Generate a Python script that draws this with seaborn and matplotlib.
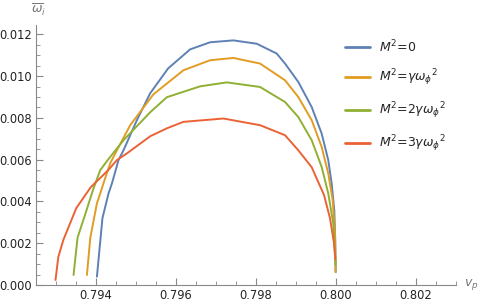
import numpy as np
import pandas as pd
import matplotlib
matplotlib.use("Agg")
import matplotlib.pyplot as plt
import seaborn as sns

# values
labels = [r"$M^2$=0", r"$M^2$=$\gamma\omega_\phi{}^2$",
          r"$M^2$=2$\gamma\omega_\phi{}^2$", r"$M^2$=3$\gamma\omega_\phi{}^2$"]
colors = ["#5E81B5", "#E19C24", "#8FB032", "#EB6235"]

vp_0 = [0.794025, 0.794163, 0.794315, 0.7944, 0.794565, 0.79469, 0.795025, 0.795358,
        0.795808, 0.796358, 0.796858, 0.79744, 0.798025, 0.798525, 0.798733, 0.799065,
        0.7994, 0.79965, 0.799815, 0.7999, 0.799965, 0.79999, 0.8]
w_0 = [0.0004, 0.0032, 0.00438, 0.00486, 0.00598, 0.00645, 0.00789, 0.00918,
       0.01037, 0.01128, 0.01162, 0.01171, 0.01155, 0.01108, 0.0106, 0.00972,
       0.00852, 0.00725, 0.00598, 0.00486, 0.00359, 0.00215, 0.00062]

vp_1 = [0.793775, 0.793858, 0.794025, 0.794233, 0.794358, 0.794525, 0.794858, 0.79544,
        0.79619, 0.796858, 0.79744, 0.798108, 0.798733, 0.799065, 0.7994, 0.79965,
        0.799815, 0.799925, 0.79998, 0.8]
w_1 = [0.00048, 0.00225, 0.00391, 0.00512, 0.00583, 0.00645, 0.00765, 0.00913,
       0.01028, 0.01076, 0.01087, 0.0106, 0.0098, 0.009, 0.00789, 0.00661,
       0.00534, 0.00406, 0.00263, 0.00062]

vp_2 = [0.79344, 0.79354, 0.793758, 0.793933, 0.794108, 0.794295, 0.79469, 0.795358,
        0.795775, 0.796608, 0.797275, 0.798108, 0.798733, 0.799065, 0.7994, 0.79965,
        0.799815, 0.79994, 0.8]
w_2 = [0.00048, 0.00227, 0.00354, 0.00459, 0.0055, 0.00598, 0.00693, 0.00827,
       0.00899, 0.00951, 0.0097, 0.00948, 0.00876, 0.00804, 0.00693, 0.00565,
       0.00438, 0.00295, 0.00096]

vp_3 = [0.792988, 0.793058, 0.793183, 0.793508, 0.79387, 0.794308, 0.794525, 0.794775,
        0.795358, 0.795775, 0.79619, 0.79719, 0.798108, 0.798733, 0.799065, 0.7994,
        0.79971, 0.799858, 0.799958, 0.79999]
w_3 = [0.00024, 0.00134, 0.00215, 0.00368, 0.00468, 0.0055, 0.00598, 0.0063,
       0.00712, 0.0075, 0.00781, 0.00797, 0.00765, 0.00717, 0.00645, 0.00564,
       0.0043, 0.0032, 0.00201, 0.00124]

xticks = [0.794, 0.796, 0.798, 0.800, 0.802]
yticks = [0.000, 0.002, 0.004, 0.006, 0.008, 0.010, 0.012]

frames = []
for lab, xs, ys in zip(labels, [vp_0, vp_1, vp_2, vp_3], [w_0, w_1, w_2, w_3]):
    frames.append(pd.DataFrame({"vp": xs, "w": ys, "case": lab}))
df = pd.concat(frames, ignore_index=True)

sns.set_style("ticks")
plt.rcParams["font.family"] = ["DejaVu Sans"]
plt.rcParams["mathtext.fontset"] = "dejavusans"

fig = plt.figure(figsize=(4.8, 3.04), dpi=100)
ax = fig.add_axes([0.075, 0.0625, 0.874, 0.8555])
sns.lineplot(data=df, x="vp", y="w", hue="case", palette=colors, sort=False,
             estimator=None, linewidth=1.4, ax=ax)

ax.set_xlim(0.7925, 0.803)
ax.set_ylim(0, 0.01245)
ax.set_xticks(xticks)
ax.set_xticklabels(["%.3f" % v for v in xticks])
ax.set_yticks(yticks)
ax.set_yticklabels(["%.3f" % v for v in yticks])
ax.set_xticks(np.arange(0.7925, 0.8031, 0.0005), minor=True)
ax.set_yticks(np.arange(0, 0.0125, 0.0005), minor=True)
ax.tick_params(which="major", direction="in", length=5, width=0.8, color="#888888",
               labelsize=8.3, pad=3, labelcolor="#222222")
ax.tick_params(which="minor", direction="in", length=3, width=0.6, color="#888888")
for s in ["top", "right"]:
    ax.spines[s].set_visible(False)
for s in ["left", "bottom"]:
    ax.spines[s].set_color("#888888")
    ax.spines[s].set_linewidth(0.8)
ax.set_xlabel("")
ax.set_ylabel("")

fig.text(31 / 480, 1 - 2 / 304, r"$\overline{\omega}_i$", ha="left", va="top",
         color="#777777", fontsize=9)
ax.text(1.02, 0.0, r"$v_p$", transform=ax.transAxes, ha="left", va="center",
        color="#777777", fontsize=9)

leg = ax.legend(loc="upper left", bbox_to_anchor=(334 / 480, 1 - 27 / 304),
                bbox_transform=fig.transFigure, frameon=False, fontsize=9,
                handlelength=2.0, handletextpad=0.7, labelspacing=1.0)
for line in leg.get_lines():
    line.set_linewidth(2.0)

fig.savefig("out.png", dpi=100)
